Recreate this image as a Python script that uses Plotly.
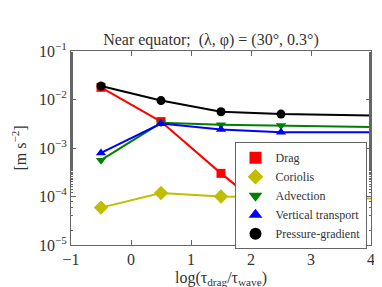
import plotly.graph_objects as go

# x positions: log(tau_drag / tau_wave); last column is the no-drag limit (beyond the axis)
x_vals = [-0.5, 0.5, 1.5, 2.5, 5.0]

drag = [1.78e-2, 3.5e-3, 3.0e-4, 3.0e-5, None]
coriolis = [5.9e-5, 1.18e-4, 1.0e-4, 9.5e-5, 8.8e-5]
advection = [5.6e-4, 3.3e-3, 3.0e-3, 2.9e-3, 2.6e-3]
vertical = [7.9e-4, 3.2e-3, 2.4e-3, 2.1e-3, 2.1e-3]
pressure = [1.9e-2, 9.5e-3, 5.6e-3, 5.0e-3, 4.5e-3]

series_names = ["Drag", "Coriolis", "Advection", "Vertical transport", "Pressure-gradient"]
series_vals = [drag, coriolis, advection, vertical, pressure]
colors = ["#ff0000", "#bfbf00", "#008000", "#0000ff", "#000000"]
symbols = ["square", "diamond", "triangle-down", "triangle-up", "circle"]

y_tickvals = [1e-5, 1e-4, 1e-3, 1e-2, 1e-1]
y_ticktext = ["10<sup>−5</sup>", "10<sup>−4</sup>", "10<sup>−3</sup>", "10<sup>−2</sup>", "10<sup>−1</sup>"]
x_tickvals = [-1, 0, 1, 2, 3, 4]
x_ticktext = ["−1", "0", "1", "2", "3", "4"]

FONT = "Liberation Serif, DejaVu Serif, serif"
TXT = "#333333"
AX = "#666666"

fig = go.Figure()
for name, vals, c, s in zip(series_names, series_vals, colors, symbols):
    fig.add_trace(go.Scatter(
        x=x_vals, y=vals, mode="lines+markers", name=name, showlegend=False,
        line=dict(color=c, width=2),
        marker=dict(symbol=s, color=c, size=9 if s != "diamond" else 11, line=dict(width=0)),
    ))
for name, c, s in zip(series_names, colors, symbols):
    fig.add_trace(go.Scatter(
        x=[None], y=[None], mode="markers", name=name,
        marker=dict(symbol=s, color=c, size=9 if s != "diamond" else 11),
    ))

fig.update_layout(
    width=382, height=287,
    margin=dict(l=58, r=19, t=43, b=44),
    paper_bgcolor="white", plot_bgcolor="white",
    font=dict(family=FONT, color=TXT, size=16),
    title=dict(text="Near equator;  (λ, φ) = (30°, 0.3°)", x=203 / 382, xanchor="center",
               y=1 - 31 / 287, yanchor="middle", font=dict(size=16, family=FONT, color=TXT)),
    showlegend=True,
    legend=dict(x=0.545, y=0.53, xanchor="left", yanchor="top",
                bgcolor="white", bordercolor=AX, borderwidth=1,
                font=dict(size=12, family=FONT, color=TXT),
                itemsizing="constant", tracegroupgap=0),
)
fig.update_xaxes(
    range=[-1, 4], tickvals=x_tickvals, ticktext=x_ticktext,
    ticks="inside", ticklen=5, tickcolor=AX, mirror="ticks",
    showline=True, linecolor=AX, linewidth=1, showgrid=False, zeroline=False,
    tickfont=dict(size=16, family=FONT, color=TXT),
    title=dict(text="log(τ<sub>drag</sub>/τ<sub>wave</sub>)", standoff=4,
               font=dict(size=16, family=FONT, color=TXT)),
)
fig.update_yaxes(
    type="log", range=[-5, -1], tickvals=y_tickvals, ticktext=y_ticktext,
    ticks="inside", ticklen=5, tickcolor=AX, mirror="ticks",
    showline=True, linecolor=AX, linewidth=1, showgrid=False, zeroline=False,
    tickfont=dict(size=16, family=FONT, color=TXT),
    minor=dict(ticks="inside", ticklen=2, tickcolor=AX, showgrid=False),
    title=dict(text="[m s<sup>−2</sup>]", standoff=8,
               font=dict(size=16, family=FONT, color=TXT)),
)

fig.write_html("out.html")
